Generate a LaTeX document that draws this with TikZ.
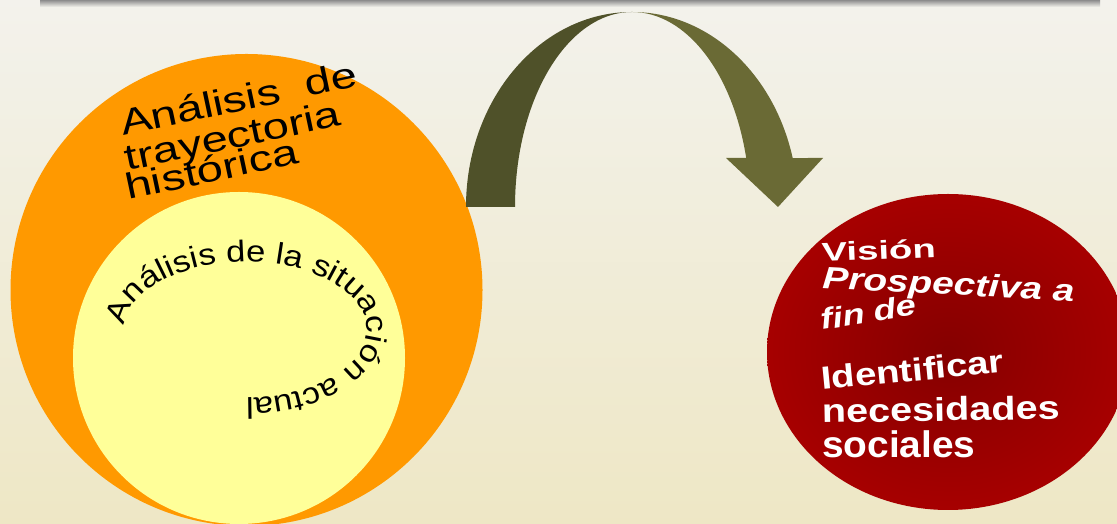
\documentclass[tikz,border=0pt]{standalone}
\usepackage{fontspec}
\setmainfont{Liberation Sans}
\newfontfamily\fA[FakeStretch=1.31]{Liberation Sans}
\newfontfamily\fC[FakeStretch=1.15]{Liberation Sans}
\newfontfamily\fV[FakeStretch=1.47]{Liberation Sans}
\newfontfamily\fP[FakeStretch=1.25]{Liberation Sans}
\newfontfamily\fI[FakeStretch=1.2]{Liberation Sans}
\newfontfamily\fS[FakeStretch=1.05]{Liberation Sans}
\usetikzlibrary{shapes.geometric,decorations.text}
\definecolor{bgtop}{HTML}{F3F2EC}
\definecolor{bgbot}{HTML}{EEE7C5}
\definecolor{orangeC}{HTML}{FF9900}
\definecolor{yellowC}{HTML}{FFFF99}
\definecolor{redC}{HTML}{850000}
\definecolor{redE}{HTML}{C00000}
\definecolor{oliveD}{HTML}{4F5129}
\definecolor{oliveL}{HTML}{6A6A35}
\pgfdeclareradialshading{redrad}{\pgfpoint{0bp}{0bp}}{color(0bp)=(redC); color(44bp)=(redE); color(50bp)=(redE)}
\begin{document}
\begin{tikzpicture}[x=1pt,y=1pt,
  disc/.style={circle, inner sep=0pt},
  lt/.style={anchor=base west, inner sep=0pt, text=black, font=\fA\fontsize{36}{36}\selectfont},
  rt/.style={anchor=base west, inner sep=0pt, text=white}]
\useasboundingbox (0,0) rectangle (1117,524);
\clip (0,0) rectangle (1117,524);
\fill[top color=bgtop, bottom color=bgbot] (0,0) rectangle (1117,524);
\fill[top color=black!45, bottom color=bgtop] (40,517) rectangle (1100,524);
% circles
\node[disc, fill=orangeC, minimum size=472pt] (outer) at (246.5,234) {};
\node[disc, fill=yellowC, minimum size=332pt] (inner) at (239,166) {};
\node[ellipse, inner sep=0pt, shade, shading=redrad, minimum width=362pt, minimum height=316pt] (vision) at (948,172) {};
% curved arrow
\fill[oliveD] (466,317) arc[start angle=180, end angle=90, x radius=166pt, y radius=195pt]
  arc[start angle=90, end angle=180, x radius=117pt, y radius=195pt] -- cycle;
\fill[oliveL] (632,512) arc[start angle=90, end angle=14.55, x radius=166pt, y radius=195pt]
  -- (823,366) -- (778,317) -- (726,366) -- (746.2,366)
  arc[start angle=14.55, end angle=90, x radius=118pt, y radius=195pt] -- cycle;
% outer circle text
\node[lt, rotate=12] (t1) at (123,388) {Análisis\ \ de};
\node[lt, rotate=12] (t2) at (127,353) {trayectoria};
\node[lt, rotate=12] (t3) at (128,324) {histórica};
% inner circle text along ellipse
\path[decorate, decoration={text along path, text align=left,
  text={|\fC\fontsize{30}{30}\selectfont|Análisis de la situación actual}}]
  (246,194) ++(177:121pt and 68pt)
  arc[start angle=177, end angle=-130, x radius=121pt, y radius=68pt];
% red ellipse text
\node[rt, font=\fV\bfseries\fontsize{26}{26}\selectfont, rotate=2.5] (v1) at (822,262) {Visión};
\node[rt, font=\fP\bfseries\itshape\fontsize{31}{31}\selectfont, rotate=-3] (v2) at (822,236) {Prospectiva a};
\node[rt, font=\fP\bfseries\itshape\fontsize{29}{29}\selectfont, rotate=9] (v3) at (822,194) {fin de};
\node[rt, font=\fI\bfseries\fontsize{32}{32}\selectfont, rotate=5.5] (v4) at (822,134) {Identificar};
\node[rt, font=\fI\bfseries\fontsize{33}{33}\selectfont, rotate=1] (v5) at (822,101) {necesidades};
\node[rt, font=\fS\bfseries\fontsize{37}{37}\selectfont] (v6) at (822,66) {sociales};
\end{tikzpicture}
\end{document}
